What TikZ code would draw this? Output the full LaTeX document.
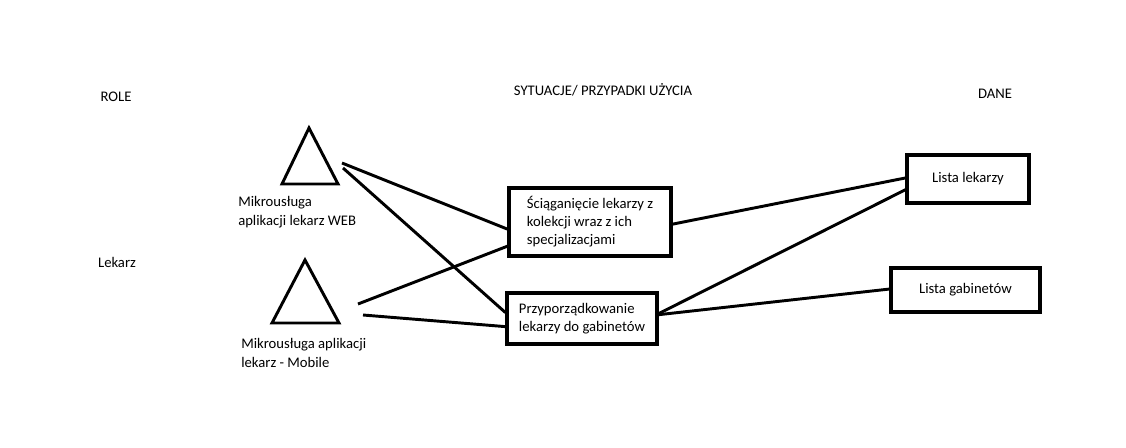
\documentclass[tikz,border=0pt]{standalone}
\usepackage{fontspec}
\setmainfont{Carlito}
\usetikzlibrary{calc}
\tikzset{
    box_case/.style={
        rectangle, draw=black, line width=2.4pt,
        align=left, inner sep=2pt, font=\fontsize{11}{13.5}\selectfont
    },
    box_data/.style={
        rectangle, draw=black, line width=2.4pt,
        align=center, inner sep=2pt, font=\fontsize{11}{13.5}\selectfont
    },
    link_line/.style={
        draw=black, line width=2.2pt
    },
    role_shape/.style={
        draw=black, line width=2.2pt, line join=miter
    },
    lbl_txt/.style={
        align=left, inner sep=0pt, font=\fontsize{11}{14}\selectfont
    },
    head_txt/.style={
        inner sep=0pt, font=\fontsize{11}{13.5}\selectfont
    }
}

\begin{document}
\begin{tikzpicture}[x=0.75pt, y=-0.75pt]
    \useasboundingbox (0,0) rectangle (1126,448);

    % Column Headers
    \node[head_txt] (hRole) at (116,97) {ROLE};
    \node[head_txt] (hCase) at (603,90) {SYTUACJE/ PRZYPADKI UŻYCIA};
    \node[head_txt] (hData) at (995,94) {DANE};
    \node[head_txt] (roleDoc) at (117,262) {Lekarz};

    % Left Column (Role Triangles)
    \coordinate (webTop) at (309,128);
    \coordinate (webLeft) at (282,184);
    \coordinate (webRight) at (338,184);
    \draw[role_shape] (webTop) -- (webLeft) -- (webRight) -- cycle;
    \node[lbl_txt, anchor=west] (webLbl) at (238,212.5) {Mikrousługa\\aplikacji lekarz WEB};

    \coordinate (mobTop) at (305,260);
    \coordinate (mobLeft) at (272,323);
    \coordinate (mobRight) at (339,323);
    \draw[role_shape] (mobTop) -- (mobLeft) -- (mobRight) -- cycle;
    \node[lbl_txt, anchor=west] (mobLbl) at (241,353) {Mikrousługa aplikacji\\lekarz - Mobile};

    % Middle Column (Use Cases)
    \node[box_case, minimum width=121.5pt, minimum height=51pt] (caseFetch) at (590,222)
        {Ściąganięcie lekarzy z\\kolekcji wraz z ich\\specjalizacjami};
    \node[box_case, minimum width=112.5pt, minimum height=38.25pt] (caseAssign) at (582,318.5)
        {Przyporządkowanie\\lekarzy do gabinetów};

    % Right Column (Data)
    \node[box_data, minimum width=91.5pt, minimum height=36pt] (dataDocs) at (968,179) {Lista lekarzy};
    \node[box_data, minimum width=111.75pt, minimum height=33pt] (dataRooms) at (965.5,290) {Lista gabinetów};

    % Free ends next to the triangles
    \coordinate (webA) at (342,163);
    \coordinate (webB) at (343,168);
    \coordinate (mobA) at (358,304);
    \coordinate (mobB) at (363,315);

    % Roles -> Use Cases
    \draw[link_line] (webA) -- ($(caseFetch.north west)!0.60!(caseFetch.south west)$);
    \draw[link_line] (webB) -- ($(caseAssign.north west)!0.39!(caseAssign.south west)$);
    \draw[link_line] (mobA) -- ($(caseFetch.north west)!0.84!(caseFetch.south west)$);
    \draw[link_line] (mobB) -- ($(caseAssign.north west)!0.65!(caseAssign.south west)$);

    % Use Cases -> Data
    \draw[link_line] ($(caseFetch.north east)!0.53!(caseFetch.south east)$) -- ($(dataDocs.north west)!0.48!(dataDocs.south west)$);
    \draw[link_line] ($(caseAssign.north east)!0.41!(caseAssign.south east)$) -- ($(dataDocs.north west)!0.71!(dataDocs.south west)$);
    \draw[link_line] ($(caseAssign.north east)!0.43!(caseAssign.south east)$) -- ($(dataRooms.north west)!0.48!(dataRooms.south west)$);
\end{tikzpicture}
\end{document}
